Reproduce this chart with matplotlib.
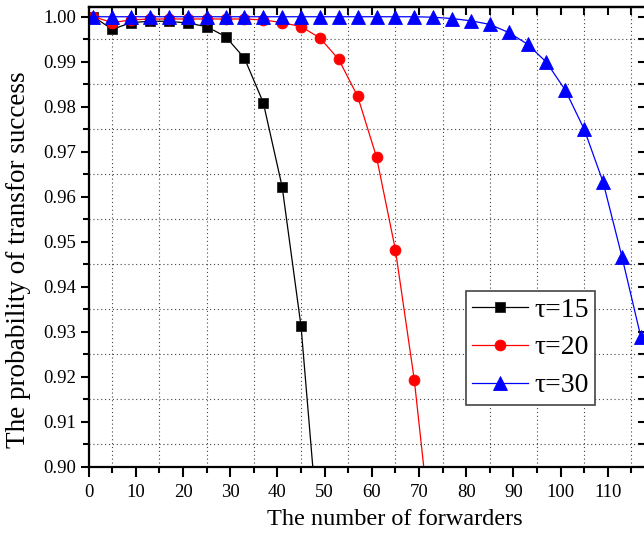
import matplotlib
matplotlib.use("Agg")
import matplotlib.pyplot as plt
from matplotlib.ticker import MultipleLocator

plt.rcParams['font.family'] = ['Liberation Serif', 'DejaVu Serif']

# ---- data ----
x15 = [1, 5, 9, 13, 17, 21, 25, 29, 33, 37, 41, 45, 49]
y15 = [1.0000, 0.9972, 0.9987, 0.9990, 0.9990, 0.9986, 0.9978, 0.9956,
       0.9908, 0.9809, 0.9622, 0.9312, 0.8810]

x20 = [1, 5, 9, 13, 17, 21, 25, 29, 33, 37, 41, 45, 49, 53, 57, 61, 65, 69, 73]
y20 = [1.0000, 0.9987, 0.9993, 0.9995, 0.9995, 0.9995, 0.9995, 0.9995,
       0.9995, 0.9993, 0.9987, 0.9978, 0.9953, 0.9905, 0.9823, 0.9688,
       0.9482, 0.9193, 0.8807]

x30 = [1, 5, 9, 13, 17, 21, 25, 29, 33, 37, 41, 45, 49, 53, 57, 61, 65, 69,
       73, 77, 81, 85, 89, 93, 97, 101, 105, 109, 113, 117]
y30 = [1.0000, 1.0000, 1.0000, 1.0000, 1.0000, 1.0000, 1.0000, 1.0000,
       1.0000, 1.0000, 1.0000, 1.0000, 1.0000, 1.0000, 1.0000, 1.0000,
       1.0000, 1.0000, 0.9999, 0.9996, 0.9991, 0.9983, 0.9965, 0.9939,
       0.9899, 0.9837, 0.9750, 0.9633, 0.9467, 0.9289]

labels = ['τ=15', 'τ=20', 'τ=30']
xlabel = 'The number of forwarders'
ylabel = 'The probability of transfor success'

# ---- figure ----
W, H = 644, 536
fig = plt.figure(figsize=(W / 100, H / 100), dpi=100)
left, right, bottom, top = 88.7, 645.5, 466.7, 7.3
ax = fig.add_axes([left / W, (H - bottom) / H, (right - left) / W, (bottom - top) / H])

ax.plot(x15, y15, color='black', lw=0.9, marker='s', ms=7.3, mfc='black',
        mec='#222222', mew=0.6, label=labels[0])
ax.plot(x20, y20, color='red', lw=0.9, marker='o', ms=7.8, mfc='red',
        mec='red', mew=0.6, label=labels[1])
ax.plot(x30, y30, color='blue', lw=0.9, marker='^', ms=9.5, mfc='blue',
        mec='blue', mew=0.6, label=labels[2])

ax.set_xlim(0, 118)
ax.set_ylim(0.90, 1.0021)

ax.xaxis.set_major_locator(MultipleLocator(10))
ax.xaxis.set_minor_locator(MultipleLocator(5))
ax.yaxis.set_major_locator(MultipleLocator(0.01))
ax.yaxis.set_minor_locator(MultipleLocator(0.005))
ax.yaxis.set_major_formatter(matplotlib.ticker.FormatStrFormatter('%.2f'))

ax.grid(which='minor', color='#444444', linestyle=(0, (1, 2.5)), linewidth=0.8)
ax.grid(which='major', visible=False)

for s in ax.spines.values():
    s.set_linewidth(1.6)

ax.tick_params(axis='both', which='major', direction='out', width=1.5,
               labelsize=13.5)
ax.tick_params(axis='x', which='major', length=7.5, pad=5)
ax.tick_params(axis='x', which='minor', direction='out', length=4.5, width=1.5)
ax.tick_params(axis='y', which='major', length=6, pad=3)
ax.tick_params(axis='y', which='minor', direction='out', length=4, width=1.5)

# top and right: inward ticks, no labels
sx = ax.secondary_xaxis('top')
sx.xaxis.set_major_locator(MultipleLocator(5))
sx.tick_params(direction='in', length=6, width=1.5, labeltop=False)
sx.spines['top'].set_linewidth(1.6)
sy = ax.secondary_yaxis('right')
sy.yaxis.set_major_locator(MultipleLocator(0.005))
sy.tick_params(direction='in', length=6, width=1.5, labelright=False)
sy.spines['right'].set_linewidth(1.6)

ax.set_xlabel(xlabel, fontsize=17.5)
ax.xaxis.set_label_coords(0.55, -0.093)
ax.set_ylabel(ylabel, fontsize=19.5)
ax.yaxis.set_label_coords(-0.103, 0.45)

leg = ax.legend(loc='upper left', bbox_to_anchor=(0.678, 0.3825),
                borderaxespad=0, fontsize=20, frameon=True, fancybox=False,
                framealpha=1, edgecolor='#444444', handlelength=2.0,
                handletextpad=0.25, labelspacing=0.45, borderpad=0.22)
leg.get_frame().set_linewidth(1.2)

fig.savefig('out.png', dpi=100)
